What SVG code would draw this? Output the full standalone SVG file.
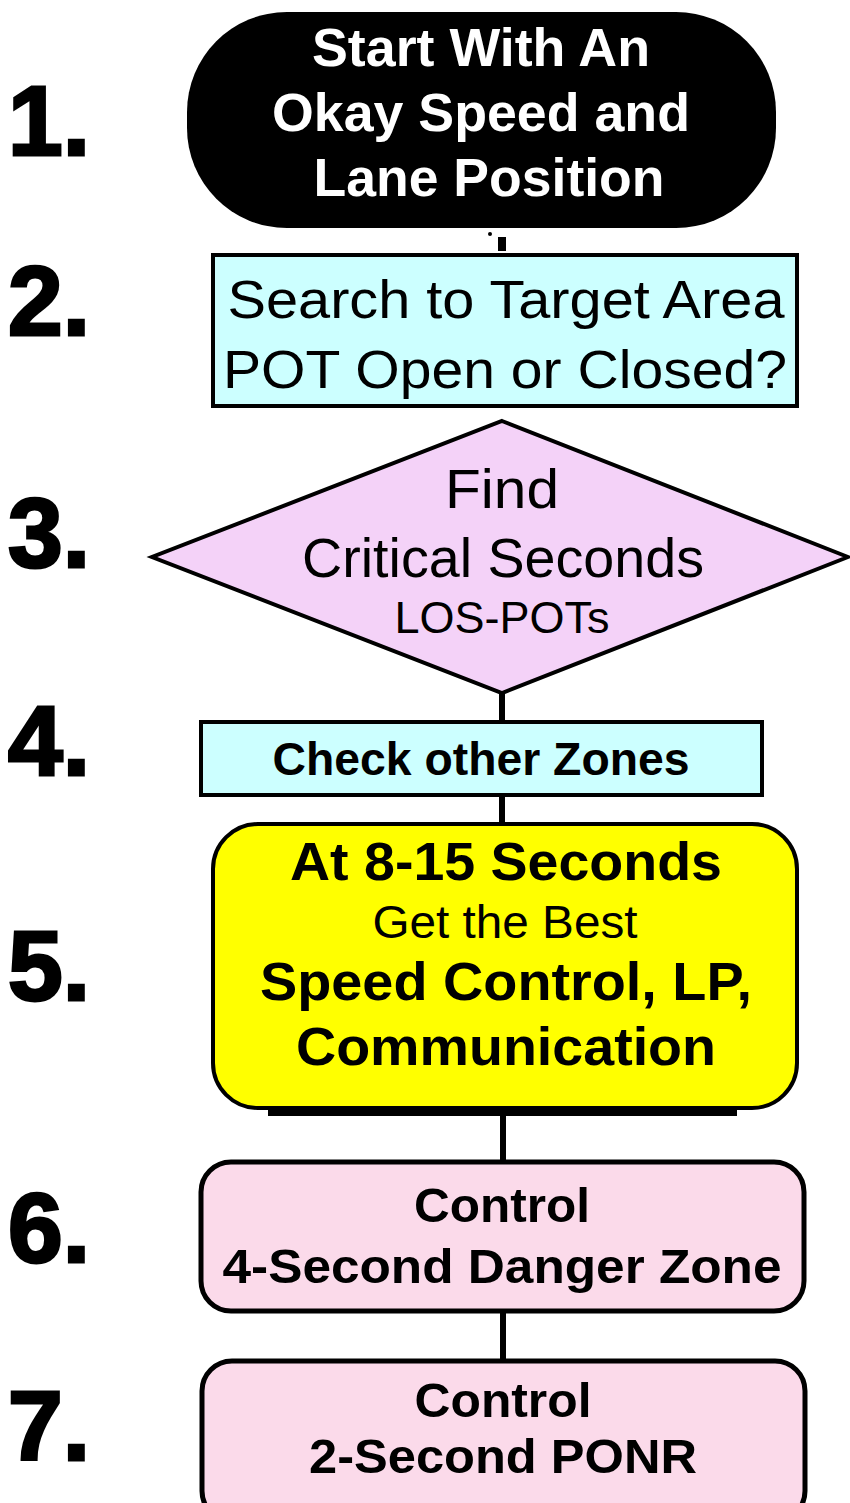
<svg xmlns="http://www.w3.org/2000/svg" width="850" height="1503" viewBox="0 0 850 1503">
<style>
.t{font-family:"Liberation Sans",Arial,sans-serif;text-anchor:middle;fill:#000}
.b{font-weight:bold}
.num{font-family:"Liberation Sans",Arial,sans-serif;font-weight:bold;font-size:98px;fill:#000;stroke:#000;stroke-width:3}
.cyan{fill:#ccffff;stroke:#000;stroke-width:4}
.pink{fill:#fbdaea;stroke:#000;stroke-width:5}
.conn{stroke:#000;stroke-width:6;fill:none}
</style>
<rect width="850" height="1503" fill="#fff"/>
<g id="numbers">
<text class="num" x="8" y="155" textLength="82" lengthAdjust="spacingAndGlyphs">1.</text>
<text class="num" x="8" y="335" textLength="82" lengthAdjust="spacingAndGlyphs">2.</text>
<text class="num" x="8" y="567" textLength="82" lengthAdjust="spacingAndGlyphs">3.</text>
<text class="num" x="8" y="775" textLength="82" lengthAdjust="spacingAndGlyphs">4.</text>
<text class="num" x="8" y="1000" textLength="82" lengthAdjust="spacingAndGlyphs">5.</text>
<text class="num" x="8" y="1262" textLength="82" lengthAdjust="spacingAndGlyphs">6.</text>
<text class="num" x="8" y="1460" textLength="82" lengthAdjust="spacingAndGlyphs">7.</text>
</g>
<g id="connectors">
<circle cx="490" cy="234" r="2" fill="#000"/>
<rect x="498" y="237" width="8" height="14" fill="#000"/>
<line class="conn" x1="502" y1="693" x2="502" y2="722" stroke-width="5"/>
<line class="conn" x1="502" y1="795" x2="502" y2="822" stroke-width="5"/>
<line class="conn" x1="503" y1="1114" x2="503" y2="1162"/>
<line class="conn" x1="503" y1="1310" x2="503" y2="1362"/>
</g>
<g id="node1">
<rect x="187" y="12" width="589" height="216" rx="100" ry="100" fill="#000"/>
<g class="t b" fill="#fff" style="fill:#fff" font-size="53">
<text x="481" y="66" style="fill:#fff" textLength="338" lengthAdjust="spacingAndGlyphs">Start With An</text>
<text x="481" y="131" style="fill:#fff" textLength="418" lengthAdjust="spacingAndGlyphs">Okay Speed and</text>
<text x="489" y="196" style="fill:#fff" textLength="351" lengthAdjust="spacingAndGlyphs">Lane Position</text>
</g>
</g>
<g id="node2">
<rect class="cyan" x="213" y="255" width="584" height="151"/>
<text class="t" x="506" y="318" font-size="53" textLength="557" lengthAdjust="spacingAndGlyphs">Search to Target Area</text>
<text class="t" x="505" y="388" font-size="53" textLength="564" lengthAdjust="spacingAndGlyphs">POT Open or Closed?</text>
</g>
<g id="node3">
<polygon points="502,421 848,557 502,693 152,557" fill="#f4d2f8" stroke="#000" stroke-width="4"/>
<text class="t" x="502" y="508" font-size="55" textLength="114" lengthAdjust="spacingAndGlyphs">Find</text>
<text class="t" x="503" y="577" font-size="55" textLength="402" lengthAdjust="spacingAndGlyphs">Critical Seconds</text>
<text class="t" x="502" y="633" font-size="44" textLength="215" lengthAdjust="spacingAndGlyphs">LOS-POTs</text>
</g>
<g id="node4">
<rect class="cyan" x="201" y="722" width="561" height="73"/>
<text class="t b" x="481" y="775" font-size="46" textLength="417" lengthAdjust="spacingAndGlyphs">Check other Zones</text>
</g>
<g id="node5">
<rect x="268" y="1104" width="469" height="12" fill="#000"/>
<rect x="213" y="824" width="584" height="284" rx="45" ry="45" fill="#ffff00" stroke="#000" stroke-width="4"/>
<text class="t b" x="506" y="880" font-size="54" textLength="432" lengthAdjust="spacingAndGlyphs">At 8-15 Seconds</text>
<text class="t" x="505" y="938" font-size="46" textLength="265" lengthAdjust="spacingAndGlyphs">Get the Best</text>
<text class="t b" x="506" y="1000" font-size="54" textLength="492" lengthAdjust="spacingAndGlyphs">Speed Control, LP,</text>
<text class="t b" x="506" y="1065" font-size="54" textLength="420" lengthAdjust="spacingAndGlyphs">Communication</text>
</g>
<g id="node6">
<rect class="pink" x="201" y="1162" width="603" height="149" rx="30" ry="30"/>
<text class="t b" x="502" y="1222" font-size="48" textLength="176" lengthAdjust="spacingAndGlyphs">Control</text>
<text class="t b" x="502" y="1283" font-size="48" textLength="559" lengthAdjust="spacingAndGlyphs">4-Second Danger Zone</text>
</g>
<g id="node7">
<rect class="pink" x="202" y="1361" width="603" height="160" rx="30" ry="30"/>
<text class="t b" x="503" y="1417" font-size="48" textLength="177" lengthAdjust="spacingAndGlyphs">Control</text>
<text class="t b" x="503" y="1473" font-size="48" textLength="388" lengthAdjust="spacingAndGlyphs">2-Second PONR</text>
</g>
</svg>
